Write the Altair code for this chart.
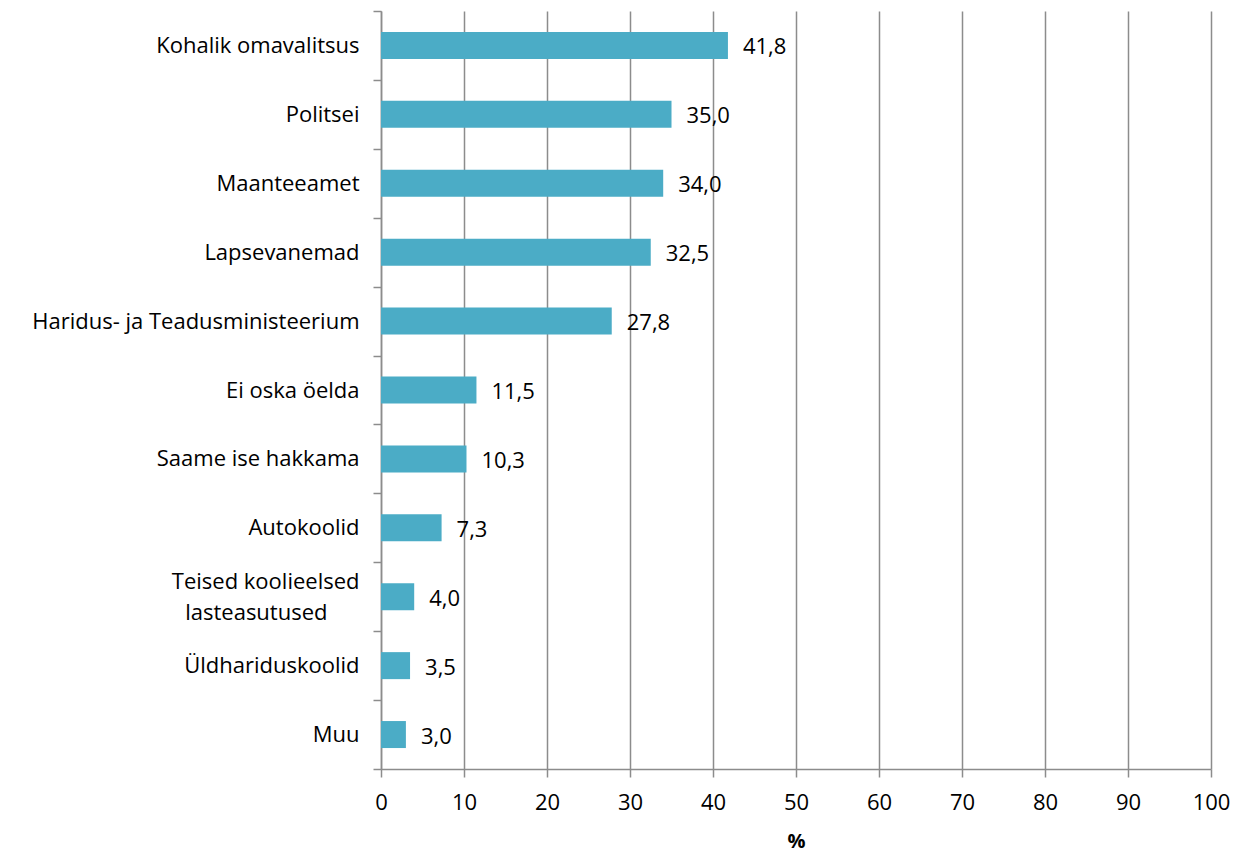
import altair as alt
import pandas as pd

categories = [
    "Kohalik omavalitsus",
    "Politsei",
    "Maanteeamet",
    "Lapsevanemad",
    "Haridus- ja Teadusministeerium",
    "Ei oska öelda",
    "Saame ise hakkama",
    "Autokoolid",
    "Teised koolieelsed lasteasutused",
    "Üldhariduskoolid",
    "Muu",
]
values = [41.8, 35.0, 34.0, 32.5, 27.8, 11.5, 10.3, 7.3, 4.0, 3.5, 3.0]
x_ticks = [0, 10, 20, 30, 40, 50, 60, 70, 80, 90, 100]

df = pd.DataFrame({"cat": categories, "val": values})

FONT = "Open Sans"
FS = 22
GRAY = "#8c8c8c"
BAR = "#4BACC6"
TWO_LINE = "Teised koolieelsed lasteasutused"

y_enc = alt.Y(
    "cat:N",
    sort=categories,
    title=None,
    scale=alt.Scale(paddingInner=0, paddingOuter=0),
    axis=alt.Axis(
        tickBand="extent",
        tickSize=8,
        tickColor=GRAY,
        tickWidth=1.5,
        domainColor=GRAY,
        domainWidth=1.5,
        labelPadding=14,
        labelFontSize=FS,
        labelFont=FONT,
        labelColor="#000000",
        labelLimit=400,
        labelExpr=f"datum.label == '{TWO_LINE}' ? ['Teised koolieelsed', 'lasteasutused\u2800\u2800'] : datum.label",
        labelLineHeight=31,
        labelOffset={"condition": {"test": f"datum.label == '{TWO_LINE}'", "value": -15}, "value": 0},
        grid=False,
    ),
)

x_enc = alt.X(
    "val:Q",
    title="%",
    scale=alt.Scale(domain=[0, 100], nice=False),
    axis=alt.Axis(
        values=x_ticks,
        grid=True,
        gridColor=GRAY,
        gridWidth=1.5,
        tickSize=8,
        tickColor=GRAY,
        tickWidth=1.5,
        domainColor=GRAY,
        domainWidth=1.5,
        labelFlush=False,
        labelFontSize=FS,
        labelFont=FONT,
        labelColor="#000000",
        labelPadding=15,
        titleFont=FONT,
        titleFontSize=20,
        titleFontWeight="bold",
        titleColor="#000000",
        titlePadding=18,
    ),
)

bars = alt.Chart(df).mark_bar(color=BAR, size=27).encode(x=x_enc, y=y_enc)

text = (
    alt.Chart(df)
    .transform_calculate(lab="replace(format(datum.val, '.1f'), '.', ',')")
    .mark_text(align="left", baseline="middle", dx=15, dy=2, fontSize=FS, font=FONT, color="#000000")
    .encode(x="val:Q", y=alt.Y("cat:N", sort=categories), text="lab:N")
)

chart = (
    alt.layer(bars, text)
    .properties(
        width=830,
        height=758,
        padding={"left": 373, "top": 3, "right": 20, "bottom": 84},
        autosize=alt.AutoSizeParams(type="none"),
    )
    .configure_view(stroke=None)
)

chart.save("out.html", embed_options={"renderer": "svg", "actions": False})
